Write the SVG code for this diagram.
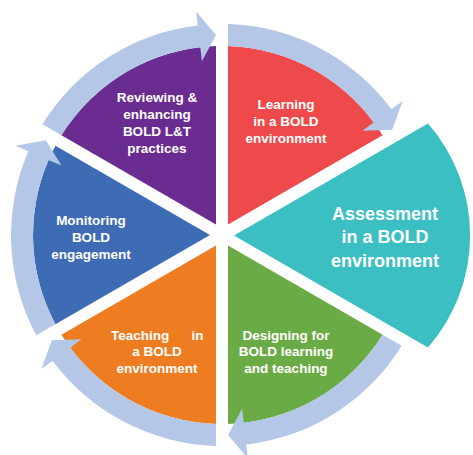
<svg xmlns="http://www.w3.org/2000/svg" width="473" height="455" viewBox="0 0 473 455">
<style>
.lbl{font-family:"Liberation Sans",Arial,sans-serif;font-weight:bold;font-size:13.5px;fill:#fff;text-anchor:middle}
.big{font-size:18px}
.ring{fill:#B4C7E7}
</style>
<rect width="473" height="455" fill="#fff"/>
<g id="node-reviewing">
<path d="M216,224.608 L61.403,135.351 A189,189 0 0 1 216,46.095 Z" fill="#6A2C90"/>
<text class="lbl"><tspan x="157" y="102">Reviewing &amp;</tspan><tspan x="157" y="119">enhancing</tspan><tspan x="157" y="136">BOLD L&amp;T</tspan><tspan x="157" y="153">practices</tspan></text>
</g>
<g id="node-learning">
<path d="M228,224.608 L228,46.095 A189,189 0 0 1 382.597,135.351 Z" fill="#EE4A4B"/>
<text class="lbl"><tspan x="286" y="109">Learning</tspan><tspan x="286" y="126">in a BOLD</tspan><tspan x="286" y="143">environment</tspan></text>
</g>
<g id="node-assessment">
<path d="M234,235.5 L428,123.5 A170,170 0 0 1 428,347.5 Z" fill="#3BBFC2"/>
<text class="lbl big"><tspan x="385" y="219.5">Assessment</tspan><tspan x="385" y="243">in a BOLD</tspan><tspan x="385" y="266.5">environment</tspan></text>
</g>
<g id="node-designing">
<path d="M228,245.392 L382.597,334.649 A189,189 0 0 1 228,423.905 Z" fill="#6AAB45"/>
<text class="lbl"><tspan x="286" y="339.5">Designing for</tspan><tspan x="286" y="356">BOLD learning</tspan><tspan x="286" y="373">and teaching</tspan></text>
</g>
<g id="node-teaching">
<path d="M216,245.392 L216,423.905 A189,189 0 0 1 61.403,334.649 Z" fill="#EE7D22"/>
<text class="lbl"><tspan x="111" y="339.5" text-anchor="start">Teaching</tspan><tspan x="203.5" y="339.5" text-anchor="end">in</tspan><tspan x="157" y="356">a BOLD</tspan><tspan x="157" y="373">environment</tspan></text>
</g>
<g id="node-monitoring">
<path d="M210,235 L55.403,324.256 A189,189 0 0 1 55.403,145.744 Z" fill="#3D6CB5"/>
<text class="lbl"><tspan x="91" y="225">Monitoring</tspan><tspan x="91" y="242">BOLD</tspan><tspan x="91" y="259">engagement</tspan></text>
</g>
<g id="connectors">
<path class="ring" d="M61.403,135.351 L42.342,124.346 A211,211 0 0 1 197.748,25.399 L196.138,11.492 L216,35.09 L201.885,61.16 L200.276,47.253 A189,189 0 0 0 61.403,135.351 Z"/>
<path class="ring" d="M228,46.095 L228,24.085 A211,211 0 0 1 391.431,109.246 L402.673,100.902 L392.127,129.849 L362.523,130.702 L373.765,122.358 A189,189 0 0 0 228,46.095 Z"/>
<path class="ring" d="M382.597,334.649 L401.658,345.654 A211,211 0 0 1 246.252,444.601 L247.862,458.508 L228,434.91 L242.115,408.84 L243.724,422.747 A189,189 0 0 0 382.597,334.649 Z"/>
<path class="ring" d="M216,423.905 L216,445.915 A211,211 0 0 1 52.569,360.754 L41.327,369.098 L51.873,340.151 L81.477,339.298 L70.235,347.642 A189,189 0 0 0 216,423.905 Z"/>
<path class="ring" d="M55.403,324.256 L36.342,335.262 A211,211 0 0 1 28.355,151.201 L15.506,145.641 L45.873,140.241 L61.394,165.499 L48.545,159.939 A189,189 0 0 0 55.403,324.256 Z"/>
</g>
</svg>
